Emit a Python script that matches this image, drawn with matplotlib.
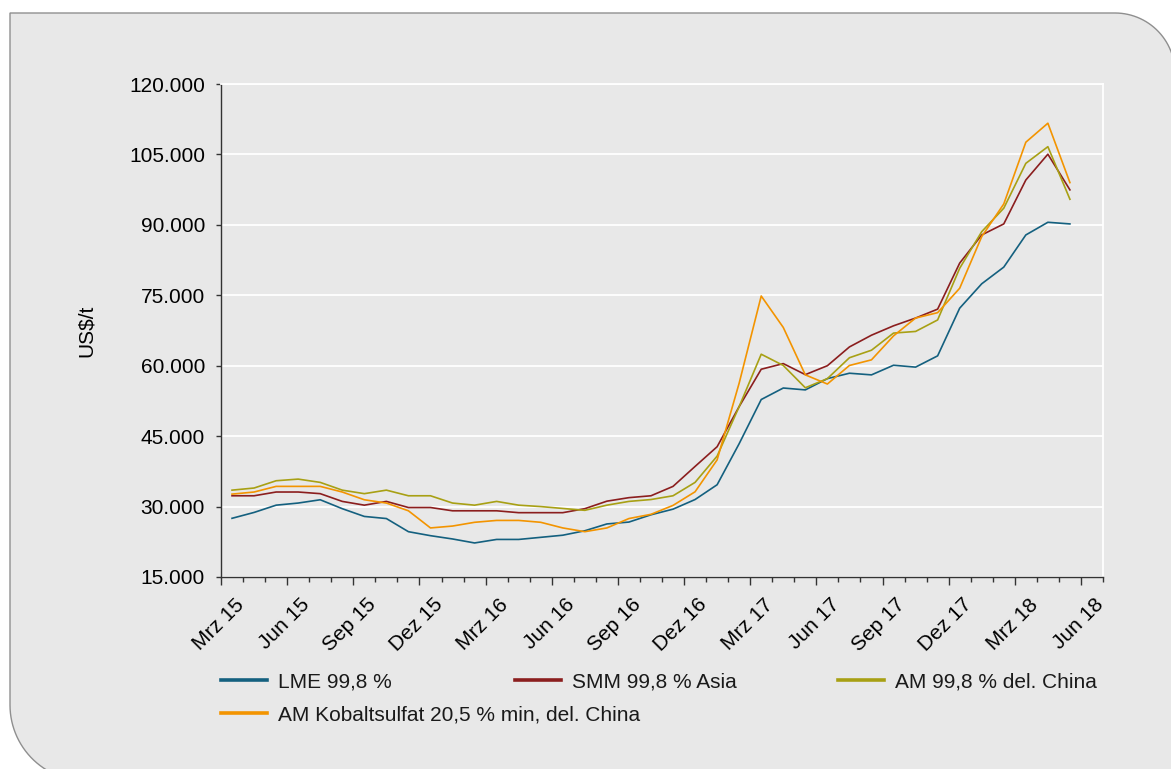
import numpy as np
import matplotlib
matplotlib.use("Agg")
import matplotlib.pyplot as plt
from matplotlib.patches import Polygon
from matplotlib.lines import Line2D
from matplotlib.transforms import ScaledTranslation
from matplotlib.ticker import FuncFormatter

# Kobaltpreise, monatlich von Mrz 15 bis Mai 18 (US$/t)
monate = ['Mrz 15', 'Jun 15', 'Sep 15', 'Dez 15', 'Mrz 16', 'Jun 16', 'Sep 16',
          'Dez 16', 'Mrz 17', 'Jun 17', 'Sep 17', 'Dez 17', 'Mrz 18', 'Jun 18']

lme = [27500, 28750, 30300, 30750, 31450, 29550, 27900, 27450, 24650, 23800,
       23100, 22250, 23000, 23000, 23450, 23900, 24850, 26300, 26700, 28250,
       29450, 31500, 34650, 43400, 52800, 55250, 54850, 57250, 58400, 58050,
       60100, 59700, 62100, 72250, 77450, 81000, 87850, 90550, 90200]

smm = [32300, 32300, 33100, 33100, 32750, 31100, 30300, 31100, 29800, 29800,
       29100, 29100, 29100, 28700, 28700, 28700, 29550, 31150, 31900, 32300,
       34300, 38550, 42750, 51300, 59250, 60450, 58100, 60000, 64000, 66500,
       68500, 70150, 72050, 81850, 87850, 90200, 99550, 105050, 97450]

am_china = [33500, 33950, 35500, 35850, 35150, 33500, 32750, 33500, 32300, 32300,
            30750, 30300, 31100, 30300, 30000, 29600, 29200, 30300, 31100, 31500,
            32300, 35150, 40750, 51300, 62450, 60050, 55300, 57250, 61700, 63300,
            66950, 67300, 69750, 80750, 88550, 93550, 103100, 106650, 95450]

am_sulfat = [32650, 33100, 34300, 34300, 34300, 33100, 31450, 30750, 29100, 25450,
             25850, 26650, 27050, 27050, 26650, 25450, 24650, 25450, 27450, 28350,
             30250, 33150, 39950, 56300, 74850, 68150, 58050, 56100, 60050, 61250,
             66350, 70150, 71300, 76500, 87500, 94450, 107600, 111650, 99000]

namen = ['LME 99,8 %', 'SMM 99,8 % Asia', 'AM 99,8 % del. China',
         'AM Kobaltsulfat 20,5 % min, del. China']
farben = ['#14607F', '#8B1E1E', '#A8A014', '#F39400']

plt.rcParams['font.family'] = ['Liberation Sans', 'DejaVu Sans']
plt.rcParams['text.color'] = '#1a1a1a'

W, H = 1171, 769
fig = plt.figure(figsize=(W / 100, H / 100), dpi=100)
fig.patch.set_facecolor('white')

# grauer Hintergrund mit zwei abgerundeten Ecken (oben rechts, unten links)
def bogen(cx, cy, r, a0, a1):
    t = np.radians(np.linspace(a0, a1, 30))
    return np.column_stack([cx + r * np.cos(t), cy + r * np.sin(t)])

oben = H - 13
pts = [[10, oben], [1115, oben]]
pts += list(bogen(1115, oben - 60, 60, 90, 0))
pts += [[1175, -20], [86, -20]]
pts += list(bogen(86, 64, 76, 270, 180))
pts = np.array(pts) / [W, H]
hg = Polygon(pts, closed=True, transform=fig.transFigure, facecolor='#E8E8E8',
             edgecolor='#8f8f8f', linewidth=1.0, zorder=-10)
fig.add_artist(hg)

ax = fig.add_axes([221 / W, 1 - 577 / H, (1103 - 221) / W, (577 - 84) / H])
ax.set_facecolor('none')

x = np.arange(len(lme)) + 0.5
for werte, farbe in zip([lme, smm, am_china, am_sulfat], farben):
    ax.plot(x, werte, color=farbe, linewidth=1.2)

ax.set_xlim(0, 40)
ax.set_ylim(15000, 120000)
ax.set_yticks(np.arange(15000, 120001, 15000))
ax.yaxis.set_major_formatter(FuncFormatter(lambda v, p: f'{int(v):,}'.replace(',', '.')))
ax.grid(axis='y', color='white', linewidth=1.3)
ax.set_axisbelow(True)

# Achsen: links und unten dunkel, oben und rechts weiss
for s in ['left', 'bottom']:
    ax.spines[s].set_color('#333333')
    ax.spines[s].set_linewidth(1.0)
for s in ['top', 'right']:
    ax.spines[s].set_color('white')
    ax.spines[s].set_linewidth(1.3)

ax.set_xticks(np.arange(0, 40, 3))
ax.set_xticks(np.arange(0, 41), minor=True)
ax.set_xticklabels(monate, rotation=45, ha='right', va='center',
                   rotation_mode='anchor', fontsize=15)
ax.tick_params(axis='x', which='major', length=5.8, width=1.0, color='#333333', pad=12)
ax.tick_params(axis='x', which='minor', length=3.6, width=1.0, color='#333333')
ax.tick_params(axis='y', length=3.6, width=1.0, color='#333333', pad=8, labelsize=15)

# Beschriftung um einen halben Monat nach rechts verschieben
verschiebung = ScaledTranslation(20 / 100, 0, fig.dpi_scale_trans)
for lab in ax.get_xticklabels():
    lab.set_transform(lab.get_transform() + verschiebung)

ax.set_ylabel('US$/t', fontsize=15)
ax.yaxis.set_label_coords(-0.142, 0.5)

# Legende: vier einzelne Eintraege
plaetze = [(221, 682), (515, 682), (838, 682), (221, 715)]
for name, farbe, (px, py) in zip(namen, farben, plaetze):
    h = Line2D([], [], color=farbe, linewidth=2.6)
    fig.legend([h], [name], loc='center left', bbox_to_anchor=(px / W, 1 - py / H),
               bbox_transform=fig.transFigure, frameon=False, fontsize=15,
               borderpad=0, borderaxespad=0, handlelength=2.2, handletextpad=0.55)

fig.savefig('out.png', dpi=100)
